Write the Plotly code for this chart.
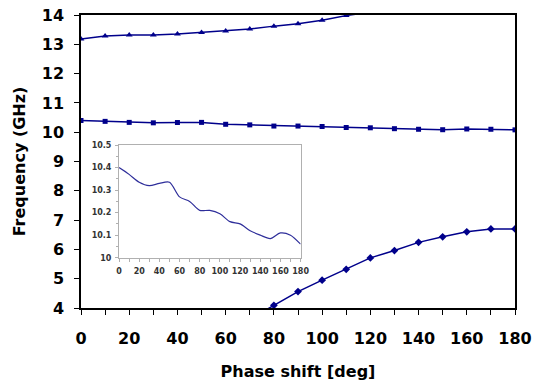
import plotly.graph_objects as go

phase = [0, 10, 20, 30, 40, 50, 60, 70, 80, 90, 100, 110, 120, 130, 140, 150, 160, 170, 180]

# upper band (triangles)
phase_top = [0, 10, 20, 30, 40, 50, 60, 70, 80, 90, 100, 110, 120]
freq_top = [13.18, 13.28, 13.32, 13.32, 13.35, 13.40, 13.45, 13.52, 13.62, 13.70, 13.82, 13.98, 14.10]

# middle band (squares)
freq_mid = [10.40, 10.37, 10.335, 10.32, 10.33, 10.335, 10.27, 10.25, 10.21, 10.21,
            10.195, 10.16, 10.15, 10.12, 10.10, 10.085, 10.11, 10.10, 10.08]

# inset curve (middle band zoomed)
freq_inset = [10.40, 10.37, 10.335, 10.32, 10.33, 10.335, 10.27, 10.25, 10.21, 10.21,
              10.195, 10.16, 10.15, 10.12, 10.10, 10.085, 10.11, 10.10, 10.06]

# lower band (diamonds)
phase_low = [70, 80, 90, 100, 110, 120, 130, 140, 150, 160, 170, 180]
freq_low = [3.62, 4.09, 4.56, 4.95, 5.32, 5.71, 5.96, 6.24, 6.43, 6.60, 6.70, 6.70]

x_ticks = [0, 20, 40, 60, 80, 100, 120, 140, 160, 180]
y_ticks = [4, 5, 6, 7, 8, 9, 10, 11, 12, 13, 14]

NAVY = "#00008B"
FONT = "DejaVu Sans"

fig = go.Figure()
fig.add_trace(go.Scatter(x=phase_top, y=freq_top, mode="lines+markers",
                         line=dict(color=NAVY, width=1.5),
                         marker=dict(symbol="triangle-up", size=6, color=NAVY),
                         showlegend=False))
fig.add_trace(go.Scatter(x=phase, y=freq_mid, mode="lines+markers",
                         line=dict(color=NAVY, width=1.5),
                         marker=dict(symbol="square", size=5, color=NAVY),
                         showlegend=False))
fig.add_trace(go.Scatter(x=phase_low, y=freq_low, mode="lines+markers",
                         line=dict(color=NAVY, width=1.5),
                         marker=dict(symbol="diamond", size=6, color=NAVY),
                         showlegend=False))
fig.add_trace(go.Scatter(x=phase, y=freq_inset, mode="lines",
                         line=dict(color="#2E2E9A", width=1.2, shape="spline", smoothing=0.8),
                         xaxis="x2", yaxis="y2", showlegend=False))

fig.update_layout(
    width=534, height=388,
    margin=dict(l=81, r=19, t=15, b=80),
    paper_bgcolor="white", plot_bgcolor="white",
    font=dict(family=FONT, color="black"),
    xaxis=dict(range=[0, 180], tickvals=x_ticks, showgrid=False, zeroline=False,
               automargin=False,
               showline=True, linecolor="black", linewidth=1.5, mirror=True,
               ticks="outside", ticklen=5, tickcolor="black",
               minor=dict(dtick=10, ticks="outside", ticklen=5, tickcolor="black"),
               tickfont=dict(family=FONT, size=16, color="black", weight="bold"),
               ticklabelstandoff=10,
               title=dict(text="<b>Phase shift [deg]</b>", font=dict(family=FONT, size=16),
                          standoff=19)),
    yaxis=dict(range=[4, 14], tickvals=y_ticks, showgrid=False, zeroline=False,
               automargin=False,
               showline=True, linecolor="black", linewidth=1.5, mirror=True,
               ticks="outside", ticklen=5, tickcolor="black",
               tickfont=dict(family=FONT, size=16, color="black", weight="bold"),
               ticklabelstandoff=7,
               title=dict(text="<b>Frequency (GHz)</b>", font=dict(family=FONT, size=16),
                          standoff=12)),
    xaxis2=dict(domain=[0.0876, 0.506], anchor="y2", range=[0, 180], tickvals=x_ticks,
                automargin=False,
                showgrid=False, zeroline=False, showline=True, linecolor="#B0B0B0",
                linewidth=1, mirror=True, ticks="outside", ticklen=3, tickcolor="#B0B0B0",
                minor=dict(dtick=10, ticks="outside", ticklen=3, tickcolor="#B0B0B0"),
                tickfont=dict(family=FONT, size=8, color="#333333", weight="bold"),
                ticklabelstandoff=3),
    yaxis2=dict(domain=[0.1717, 0.556], anchor="x2", range=[10, 10.5], dtick=0.1,
                automargin=False,
                showgrid=False, zeroline=False, showline=True, linecolor="#B0B0B0",
                linewidth=1, mirror=True, ticks="outside", ticklen=3, tickcolor="#B0B0B0",
                minor=dict(dtick=0.05, ticks="outside", ticklen=2, tickcolor="#B0B0B0"),
                tickfont=dict(family=FONT, size=8, color="#333333", weight="bold"),
                ticklabelstandoff=2),
)

fig.write_html("out.html", config={"displayModeBar": False},
               post_script="document.body.style.margin='0';")
